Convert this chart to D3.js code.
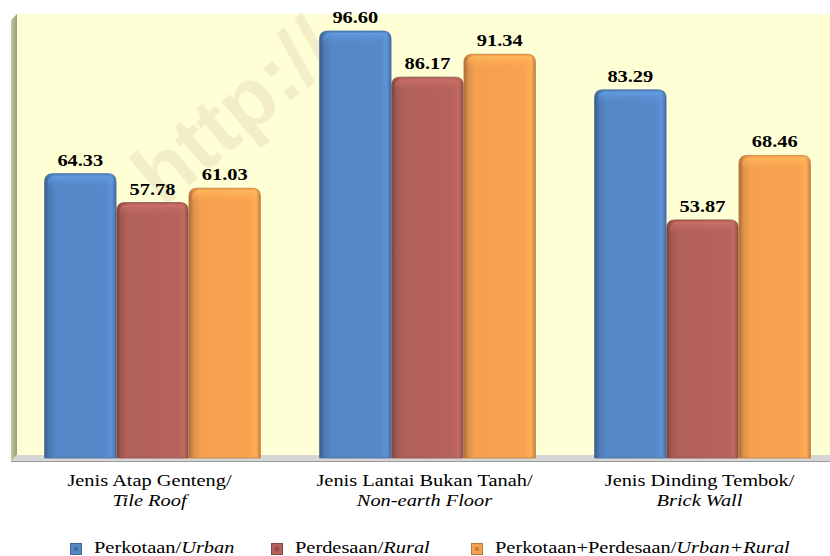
<!DOCTYPE html>
<html>
<head>
<meta charset="utf-8">
<script src="https://cdn.jsdelivr.net/npm/d3@7"></script>
<style>
  html, body { margin: 0; padding: 0; background: #ffffff; }
  svg { display: block; }
  .serif { font-family: "Liberation Serif", "Times New Roman", serif; }
</style>
</head>
<body>
<svg id="chart" width="830" height="556"></svg>
<script>
// Housing quality indicators (%), by area type
const categories = ["Jenis Atap Genteng/", "Jenis Lantai Bukan Tanah/", "Jenis Dinding Tembok/"];
const categoriesEn = ["Tile Roof", "Non-earth Floor", "Brick Wall"];
const seriesNames = ["Perkotaan/", "Perdesaan/", "Perkotaan+Perdesaan/"];
const seriesNamesEn = ["Urban", "Rural", "Urban+Rural"];
const urban = [64.33, 96.60, 83.29];
const rural = [57.78, 86.17, 53.87];
const total = [61.03, 91.34, 68.46];
const seriesValues = [urban, rural, total];
const seriesColors = ["#5587c6", "#b2615a", "#f5a04f"];

const svg = d3.select("#chart");
const W = 830;
const plot = { left: 17, right: 830, top: 14, floor: 455, base: 458 };
const stretch = 1.2;   // wide-set type used throughout

const x = d3.scaleBand().domain(d3.range(categories.length))
  .range([15, 840]).paddingInner(0.21).paddingOuter(0.105);
const xs = d3.scaleBand().domain(d3.range(seriesNames.length))
  .range([0, x.bandwidth()]).padding(0.01);
const y = d3.scaleLinear().domain([0, 100]).range([plot.base, 16]);

const defs = svg.append("defs");
seriesColors.forEach((c, i) => {
  const base = d3.color(c);
  const g = defs.append("linearGradient").attr("id", "bar" + i)
    .attr("x1", "0").attr("x2", "1").attr("y1", "0").attr("y2", "0");
  g.append("stop").attr("offset", "0").attr("stop-color", base.darker(1.1));
  g.append("stop").attr("offset", "0.06").attr("stop-color", base.darker(0.3));
  g.append("stop").attr("offset", "0.16").attr("stop-color", base);
  g.append("stop").attr("offset", "0.85").attr("stop-color", base.brighter(0.05));
  g.append("stop").attr("offset", "0.94").attr("stop-color", base.brighter(0.25));
  g.append("stop").attr("offset", "1").attr("stop-color", base.darker(0.6));
  const t = defs.append("linearGradient").attr("id", "cap" + i)
    .attr("x1", "0").attr("x2", "0").attr("y1", "0").attr("y2", "1");
  t.append("stop").attr("offset", "0").attr("stop-color", base.brighter(0.45)).attr("stop-opacity", 0.85);
  t.append("stop").attr("offset", "1").attr("stop-color", base.brighter(0.1)).attr("stop-opacity", 0);
});
const wallGrad = defs.append("linearGradient").attr("id", "wall")
  .attr("x1", "0").attr("x2", "1");
wallGrad.append("stop").attr("offset", "0").attr("stop-color", "#c6c6a2");
wallGrad.append("stop").attr("offset", "1").attr("stop-color", "#9b9b77");

// back wall
svg.append("rect").attr("x", plot.left).attr("y", plot.top)
  .attr("width", plot.right - plot.left).attr("height", plot.floor - plot.top)
  .attr("fill", "#ffffd6");

// side wall
svg.append("path")
  .attr("d", `M11,20 L${plot.left},${plot.top} L${plot.left},${plot.floor} L11,461 Z`)
  .attr("fill", "url(#wall)");

// floor
svg.append("path")
  .attr("d", `M${plot.left},${plot.floor} L${W},${plot.floor} L${W},461 L11,461 Z`)
  .attr("fill", "#d6d6d6");
svg.append("line").attr("x1", 11).attr("x2", W).attr("y1", 461.5).attr("y2", 461.5)
  .attr("stroke", "#9a9a9a").attr("stroke-width", 1.2);

// faint site stamp across the back wall
svg.append("text")
  .attr("transform", "translate(163,208) rotate(-40)")
  .attr("font-family", "Liberation Sans, Arial, sans-serif")
  .attr("font-weight", "bold").attr("font-size", 84)
  .attr("fill", "#f3eec8")
  .text("http://");

// bars
const r = 8;
function barPath(x0, w, yTop, yBot) {
  return `M${x0},${yBot} L${x0},${yTop + r} Q${x0},${yTop} ${x0 + r},${yTop}
          L${x0 + w - r},${yTop} Q${x0 + w},${yTop} ${x0 + w},${yTop + r} L${x0 + w},${yBot} Z`;
}
const groups = svg.append("g").selectAll("g").data(categories).join("g")
  .attr("transform", (d, i) => `translate(${x(i)},0)`);

groups.each(function(cat, ci) {
  const g = d3.select(this);
  seriesValues.forEach((vals, si) => {
    const v = vals[ci];
    const x0 = xs(si), w = xs.bandwidth();
    const yTop = y(v);
    g.append("path").attr("d", barPath(x0, w, yTop, plot.base))
      .attr("fill", "url(#bar" + si + ")")
      .attr("stroke", d3.color(seriesColors[si]).darker(0.7)).attr("stroke-width", 0.8);
    g.append("path").attr("d", barPath(x0 + 3, w - 6, yTop + 2, yTop + 14))
      .attr("fill", "url(#cap" + si + ")");
    g.append("text").attr("class", "serif")
      .attr("transform", `translate(${x0 + w / 2},${yTop - 8}) scale(${stretch},1)`)
      .attr("text-anchor", "middle")
      .attr("font-weight", "bold").attr("font-size", 17)
      .attr("fill", "#000")
      .text(v.toFixed(2));
  });
});

// category labels
const catG = svg.append("g").selectAll("g").data(categories).join("g")
  .attr("transform", (d, i) => `translate(${x(i) + x.bandwidth() / 2 - 3},0) scale(${stretch},1)`);
const catLabels = catG.append("text").attr("class", "serif")
  .attr("text-anchor", "middle")
  .attr("font-size", 17).attr("fill", "#000");
catLabels.append("tspan").attr("x", 0).attr("y", 486).text(d => d);
catLabels.append("tspan").attr("x", 0).attr("y", 506)
  .attr("font-style", "italic").text((d, i) => categoriesEn[i]);

// legend
const legendX = [70, 271, 471];
const legend = svg.append("g").selectAll("g").data(seriesNames).join("g")
  .attr("transform", (d, i) => `translate(${legendX[i]},0)`);
legend.append("rect").attr("x", 0.5).attr("y", 543.5).attr("width", 11).attr("height", 11)
  .attr("fill", (d, i) => seriesColors[i])
  .attr("stroke", (d, i) => d3.color(seriesColors[i]).darker(0.8)).attr("stroke-width", 1);
legend.append("rect").attr("x", 4).attr("y", 547).attr("width", 4).attr("height", 4)
  .attr("fill", (d, i) => d3.color(seriesColors[i]).darker(0.6));
const lt = legend.append("text").attr("class", "serif")
  .attr("transform", `translate(24,553) scale(${stretch},1)`)
  .attr("font-size", 17).attr("fill", "#000");
lt.append("tspan").text(d => d);
lt.append("tspan").attr("font-style", "italic").text((d, i) => seriesNamesEn[i]);
</script>
</body>
</html>
